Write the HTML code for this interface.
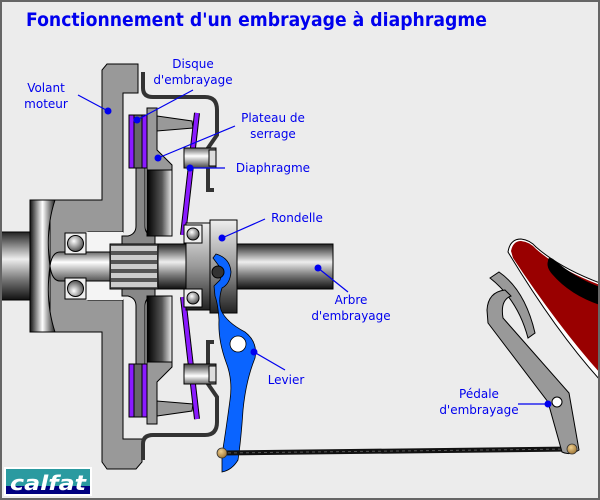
<!DOCTYPE html>
<html><head><meta charset="utf-8"><style>
html,body{margin:0;padding:0;background:#ececec}
svg{display:block}
text{font-family:"DejaVu Sans","Liberation Sans",sans-serif;fill:#0000ee}
</style></head><body>
<svg width="600" height="500" viewBox="0 0 600 500" xmlns="http://www.w3.org/2000/svg">
<defs>
<linearGradient id="cv" x1="0" y1="0" x2="0" y2="1"><stop offset="0" stop-color="#222"/><stop offset="0.4" stop-color="#eee"/><stop offset="0.7" stop-color="#777"/><stop offset="1" stop-color="#111"/></linearGradient>
<linearGradient id="ch" x1="0" y1="0" x2="1" y2="0"><stop offset="0" stop-color="#111"/><stop offset="0.5" stop-color="#fff"/><stop offset="1" stop-color="#222"/></linearGradient>
<linearGradient id="ch2" x1="0" y1="0" x2="1" y2="0"><stop offset="0" stop-color="#000"/><stop offset="0.6" stop-color="#555"/><stop offset="1" stop-color="#eee"/></linearGradient>
<linearGradient id="nose" x1="0" y1="0" x2="0" y2="1"><stop offset="0" stop-color="#666"/><stop offset="0.35" stop-color="#fff"/><stop offset="1" stop-color="#555"/></linearGradient>
<linearGradient id="ron" x1="0" y1="0" x2="0" y2="1"><stop offset="0" stop-color="#eee"/><stop offset="0.5" stop-color="#999"/><stop offset="1" stop-color="#222"/></linearGradient>
<linearGradient id="riv" x1="0" y1="0" x2="0" y2="1"><stop offset="0" stop-color="#666"/><stop offset="0.4" stop-color="#fff"/><stop offset="1" stop-color="#444"/></linearGradient>
<radialGradient id="ball" cx="0.4" cy="0.35" r="0.7"><stop offset="0" stop-color="#fff"/><stop offset="1" stop-color="#444"/></radialGradient>
<radialGradient id="gold" cx="0.4" cy="0.35" r="0.7"><stop offset="0" stop-color="#f0d090"/><stop offset="1" stop-color="#9a7030"/></radialGradient>
<g id="half">
  <rect x="129" y="115" width="5" height="53" fill="#8a1aff" stroke="#000" stroke-width="1"/>
  <rect x="134" y="115" width="8" height="53" fill="#666" stroke="#000" stroke-width="1"/>
  <rect x="142" y="115" width="5" height="53" fill="#8a1aff" stroke="#000" stroke-width="1"/>
  <path d="M136,168 H145 V226 Q145,234 152,236 H155 V244 H122 V236 H128 Q136,234 136,226 Z" fill="#888" stroke="#000" stroke-width="1"/>
  <path d="M147,108 H157 V150 L172,165 V170 H147 Z" fill="#999" stroke="#000" stroke-width="1"/>
  <path d="M157,116 L192,121 L193,128 L157,131 Z" fill="#999" stroke="#000" stroke-width="1"/>
  <rect x="147" y="170" width="25" height="66" fill="url(#ch2)" stroke="#000" stroke-width="1"/>
  <path d="M143,72 V88 Q143,97 153,97 H205 Q217,97 217,110 V135 L208,148 V190 H214" fill="none" stroke="#333" stroke-width="4"/>
  <line x1="197" y1="113" x2="183" y2="235" stroke="#000" stroke-width="6"/>
  <line x1="197" y1="113" x2="183" y2="235" stroke="#8a1aff" stroke-width="4"/>
  <rect x="184" y="148" width="32" height="20" fill="url(#riv)" stroke="#000" stroke-width="1"/>
  <rect x="209" y="150" width="7" height="16" fill="#ddd" stroke="#000" stroke-width="1"/>
  <rect x="65" y="233" width="21" height="21" fill="#eee" stroke="#000" stroke-width="1"/>
  <circle cx="75.5" cy="243.5" r="8" fill="url(#ball)" stroke="#000" stroke-width="1"/>
</g>
</defs>
<rect x="0" y="0" width="600" height="500" fill="#ececec"/>
<text x="26" y="26" font-size="19" font-weight="bold" textLength="461" lengthAdjust="spacingAndGlyphs">Fonctionnement d'un embrayage à diaphragme</text>

<rect x="0" y="232" width="40" height="68" fill="url(#cv)" stroke="#000" stroke-width="1"/>
<path d="M107,64 H138 V93 H123 V232 H88 V300 H123 V439 H142 V462 L136,469 H107 L102,462 V332 H50 V200 H102 V70 Z" fill="#999" stroke="#000" stroke-width="1"/>
<path d="M30,200 H55 Q45,230 50,266 Q45,302 55,332 H30 Z" fill="url(#ch)" stroke="#000" stroke-width="1"/>
<rect x="86" y="232" width="37" height="68" fill="#f4f4f4"/>
<path d="M112,252 H60 Q52,252 50,266 Q52,281 60,281 H112 Z" fill="url(#nose)" stroke="#000" stroke-width="1"/>

<use href="#half"/>
<use href="#half" transform="translate(0,532) scale(1,-1)"/>

<rect x="158" y="244" width="175" height="45" fill="url(#cv)" stroke="#000" stroke-width="1"/>
<rect x="110" y="244" width="48" height="45" fill="#555" stroke="#000" stroke-width="1"/>
<g fill="#ccc"><rect x="111" y="246" width="46" height="5"/><rect x="111" y="255" width="46" height="5"/><rect x="111" y="264" width="46" height="5"/><rect x="111" y="273" width="46" height="5"/><rect x="111" y="282" width="46" height="5"/></g>
<rect x="186" y="223" width="24" height="87" fill="url(#ron)" stroke="#000" stroke-width="1"/>
<rect x="210" y="220" width="27" height="93" fill="url(#ron)" stroke="#000" stroke-width="1"/>
<rect x="184" y="225" width="18" height="18" fill="#eee" stroke="#000"/><circle cx="193" cy="234" r="6" fill="url(#ball)" stroke="#000"/>
<rect x="184" y="289" width="18" height="18" fill="#eee" stroke="#000"/><circle cx="193" cy="298" r="6" fill="url(#ball)" stroke="#000"/>
<path d="M216,254 Q230,258 231,272 Q230,284 222,288 Q218,300 221,310 Q226,322 245,332 Q258,342 255,358 Q246,380 243,410 Q241,440 238,460 Q232,470 222,472 L222,455 Q226,430 230,400 Q233,380 226,362 Q218,340 219,320 Q218,304 215,296 L214,286 L220,280 Q223,272 219,266 Q216,262 213,258 Z" fill="#0a64ff" stroke="#000" stroke-width="0.8"/>
<circle cx="218" cy="272" r="6" fill="#333" stroke="#000"/>
<circle cx="238" cy="344" r="8" fill="#fff" stroke="#000" stroke-width="0.8"/>
<line x1="222" y1="453" x2="573" y2="449" stroke="#111" stroke-width="5"/>
<line x1="222" y1="453" x2="573" y2="449" stroke="#555" stroke-width="1" stroke-dasharray="3 3"/>
<!-- shoe -->
<path d="M508,252 Q510,239 521,239 Q530,240 536,247 Q560,268 600,283 V380 Q555,330 508,252 Z" fill="#fff" stroke="#000" stroke-width="1"/>
<path d="M511,251 Q513,241 521,241 Q530,242 536,249 Q560,270 600,285 V373 Q558,326 513,258 Z" fill="#990000"/>
<path d="M548,261 Q548,256 553,259 Q575,278 600,287 V305 Q570,295 552,274 Q546,267 548,261 Z" fill="#000"/>
<!-- pedal -->
<path d="M490,278 L499,272 Q525,290 535,333 L528,338 Q518,300 490,278 Z" fill="#999" stroke="#000" stroke-width="1"/>
<path d="M505,290 Q488,292 487,310 L488,323 L548,402 L562,452 Q570,456 579,450 L569,393 L503,318 Q500,300 511,296 Z" fill="#999" stroke="#000" stroke-width="1"/>
<circle cx="557" cy="402" r="5" fill="#fff" stroke="#000" stroke-width="1"/>
<circle cx="222" cy="453" r="5" fill="url(#gold)" stroke="#333" stroke-width="0.8"/>
<circle cx="572" cy="449" r="5" fill="url(#gold)" stroke="#333" stroke-width="0.8"/>

<g stroke="#0000ee" stroke-width="1.2" fill="none">
<line x1="78" y1="95" x2="108" y2="111"/>
<line x1="193" y1="90" x2="137" y2="120"/>
<line x1="235" y1="126" x2="158" y2="158"/>
<line x1="225" y1="168" x2="190" y2="168"/>
<line x1="265" y1="219" x2="222" y2="238"/>
<line x1="348" y1="292" x2="318" y2="268"/>
<line x1="285" y1="370" x2="254" y2="352"/>
<line x1="518" y1="404" x2="548" y2="404"/>
</g>
<g fill="#0000ee">
<circle cx="108" cy="111" r="3.5"/><circle cx="137" cy="120" r="3.5"/><circle cx="158" cy="158" r="3.5"/><circle cx="190" cy="168" r="3.5"/><circle cx="222" cy="238" r="3.5"/><circle cx="318" cy="268" r="3.5"/><circle cx="254" cy="352" r="3.5"/><circle cx="548" cy="404" r="3.5"/>
</g>
<g font-size="12" text-anchor="middle">
<text x="46" y="92">Volant</text><text x="46" y="108">moteur</text>
<text x="193" y="68">Disque</text><text x="193" y="84">d'embrayage</text>
<text x="273" y="122">Plateau de</text><text x="273" y="138">serrage</text>
<text x="273" y="172">Diaphragme</text>
<text x="297" y="222">Rondelle</text>
<text x="351" y="304">Arbre</text><text x="351" y="320">d'embrayage</text>
<text x="286" y="384">Levier</text>
<text x="479" y="398">Pédale</text><text x="479" y="414">d'embrayage</text>
</g>
<rect x="4" y="467" width="88" height="29" fill="#fff"/>
<rect x="6" y="469" width="84" height="17" fill="#2a9aa0"/>
<rect x="6" y="486" width="84" height="8" fill="#000080"/>
<text x="48" y="490" font-size="20" font-weight="bold" font-style="italic" text-anchor="middle" style="fill:#fff" textLength="76" lengthAdjust="spacingAndGlyphs">calfat</text>
<rect x="1" y="1" width="598" height="498" fill="none" stroke="#666" stroke-width="2"/>
</svg>
</body></html>
